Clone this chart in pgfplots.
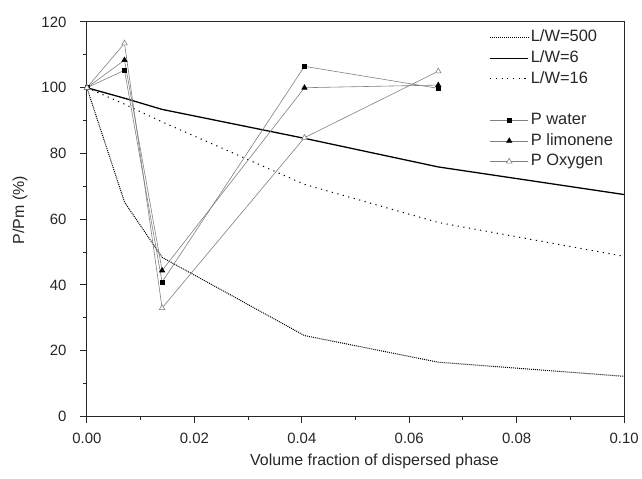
\documentclass[border=0pt]{standalone}
\usepackage{pgfplots}
\pgfplotsset{compat=1.18}
\usepackage{fontspec}
\setmainfont{Liberation Sans}
\begin{document}
\begin{tikzpicture}
\begin{axis}[
  name=ax,
  scale only axis, width=538bp, height=395bp,
  xmin=0, xmax=0.1, ymin=0, ymax=120,
  xtick={0,0.02,0.04,0.06,0.08,0.1}, ytick={0,20,40,60,80,100,120},
  minor xtick={0.01,0.03,0.05,0.07,0.09}, minor ytick={10,30,50,70,90,110},
  scaled x ticks=false,
  xtick pos=bottom, ytick pos=left,
  xtick align=outside, ytick align=outside,
  major tick length=7bp, minor tick length=4bp,
  axis line style={line width=1pt, black!85},
  every tick/.append style={line width=1pt, black!85},
  xticklabel style={yshift=-6bp, /pgf/number format/fixed, /pgf/number format/fixed zerofill, /pgf/number format/precision=2},
  /pgf/number format/assume math mode=true,
  ticklabel style={font=\fontsize{15}{17}\selectfont, black!85},
  yticklabel style={xshift=-10bp},
  xlabel={Volume fraction of dispersed phase}, ylabel={P/Pm (\%)},
  label style={font=\fontsize{16}{18}\selectfont, black!85},
  xlabel style={at={(axis description cs:0.5,0)}, anchor=center, yshift=-45bp, xshift=19bp},
  ylabel style={at={(axis description cs:0,0.5)}, anchor=center, yshift=67bp, xshift=9bp},
  legend style={draw=none, fill=none, at={(rel axis cs:1,1)}, anchor=north east,
    xshift=-6bp, yshift=-3bp,
    font=\fontsize{16.5}{19}\selectfont, row sep=0bp,
    nodes={text height=12bp, text depth=3.5bp, inner ysep=2.6bp, text=black!85}},
  legend cell align=left,
  legend image code/.code={\draw[mark repeat=2,mark phase=2] plot coordinates {(0bp,0bp)(19bp,0bp)(38bp,0bp)};},
]
\addplot[black, line width=1pt, densely dotted] coordinates {(0,100)(0.007,65.2)(0.014,48.4)(0.0405,24.6)(0.0654,16.5)(0.1,12.2)};
\addlegendentry{L/W=500}
\addplot[black, line width=1.3pt] coordinates {(0,100)(0.007,96.8)(0.014,93.4)(0.0405,84.6)(0.0654,75.9)(0.1,67.5)};
\addlegendentry{L/W=6}
\addplot[black, line width=1pt, dash pattern=on 1.2pt off 4.5pt] coordinates {(0,100)(0.007,95)(0.014,89.6)(0.0405,70.6)(0.0654,59)(0.1,48.7)};
\addlegendentry{L/W=16}
\addlegendimage{empty legend}
\addlegendentry{\phantom{P}}
\addplot[gray, line width=0.6pt, mark=square*, mark size=2pt, mark options={black, solid}] coordinates {(0,100)(0.007,105.3)(0.014,40.9)(0.0405,106.5)(0.0654,99.8)};
\addlegendentry{P water}
\addplot[gray, line width=0.6pt, mark=triangle*, mark size=3pt, mark options={black, solid}] coordinates {(0,100)(0.007,108.4)(0.014,44.4)(0.0405,100)(0.0654,100.8)};
\addlegendentry{P limonene}
\addplot[gray, line width=0.6pt, mark=triangle*, mark size=3.2pt, mark options={draw=gray, fill=white, solid}] coordinates {(0,100)(0.007,113.5)(0.014,33)(0.0405,84.8)(0.0654,105)};
\addlegendentry{P Oxygen}
\end{axis}
\useasboundingbox ([shift={(-87bp,-62bp)}]ax.south west) rectangle ([shift={(17bp,22bp)}]ax.north east);
\end{tikzpicture}
\end{document}
